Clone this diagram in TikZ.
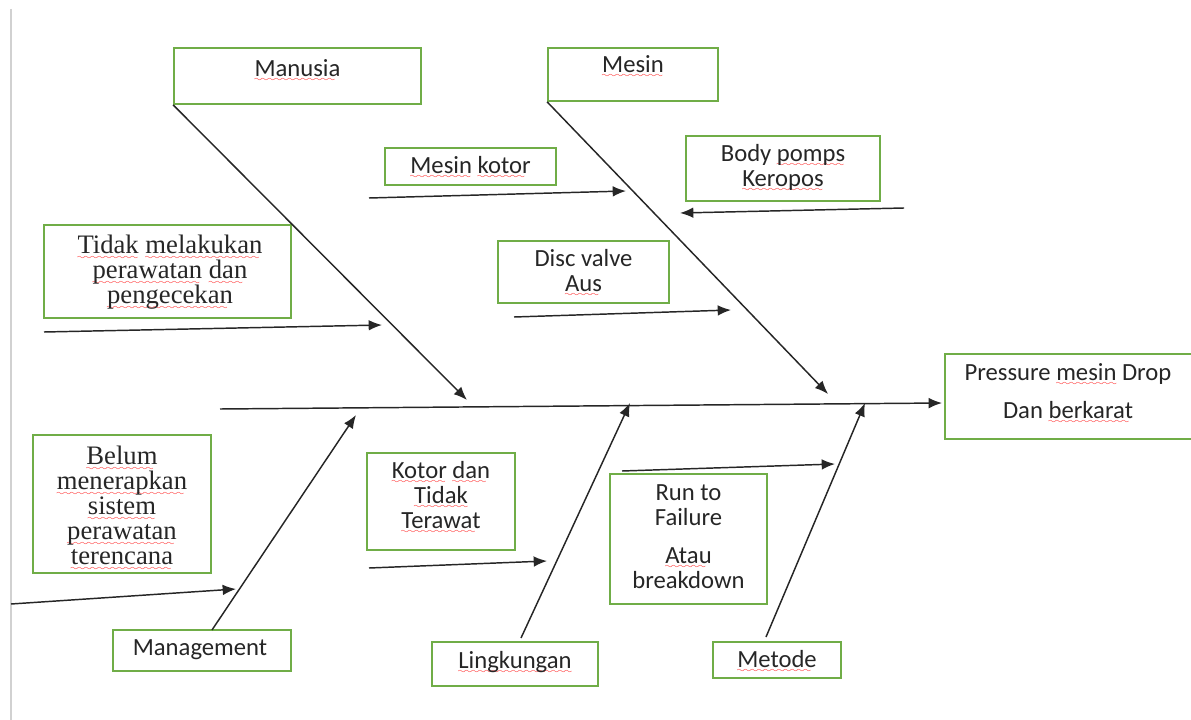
\documentclass[tikz,border=0pt]{standalone}
\usepackage{fontspec}
\setmainfont{Carlito}
\newfontfamily\bookfont{Liberation Serif}
\usepackage{tikz}
\usetikzlibrary{arrows.meta,fit}

\definecolor{boxgreen}{RGB}{112,173,71}

% red wavy underline under a word
\font\wavyfont=lasy6
\newcommand\redwave[1]{\setbox0=\hbox{#1}%
  \rlap{\lower4pt\hbox to\wd0{\color{red}\leaders\hbox{\wavyfont\char58}\hfil}}\box0\relax}

\begin{document}
\begin{tikzpicture}[x=0.75pt,y=0.75pt,yscale=-1,xscale=1,
    box/.style={draw=boxgreen,line width=1.3pt,inner sep=0pt},
    lbl/.style={anchor=north,inner sep=0pt,align=center,text=black!85,
      font={\fontsize{18.5}{18.75}\selectfont\lineskiplimit=-20pt}},
    serif/.style={lbl,font={\bookfont\fontsize{20}{18.75}\selectfont\lineskiplimit=-20pt}},
    bone/.style={draw=black!85,line width=1.1pt,-{Latex[length=10pt,width=8pt]}}]
  \useasboundingbox (0,0) rectangle (1191,720);
  \draw [color=black!18,line width=1.5pt] (11,9) -- (11,720) ;

  % boxes
  \node[box,fit={(174,48) (421,104)}] (manusia) {};
  \node[box,fit={(548,48) (718,101)}] (mesin) {};
  \node[box,fit={(385,148) (556,185)}] (kotor1) {};
  \node[box,fit={(686,136) (880,201)}] (body) {};
  \node[box,fit={(44,225) (291,318)}] (rawat) {};
  \node[box,fit={(498,241) (669,303)}] (disc) {};
  \node[box,fit={(945,354) (1194,439)}] (effect) {};
  \node[box,fit={(33,435) (211,573)}] (belum) {};
  \node[box,fit={(113,630) (291,671)}] (manag) {};
  \node[box,fit={(367,453) (515,550)}] (kotor2) {};
  \node[box,fit={(610,474) (767,604)}] (rtf) {};
  \node[box,fit={(432,642) (598,686)}] (lingk) {};
  \node[box,fit={(713,642) (841,678)}] (metode) {};

  % texts
  \node[lbl] (manusia-t) at (297.5,59) {\redwave{Manusia}};
  \node[lbl] (mesin-t) at (633,55) {\redwave{Mesin}};
  \node[lbl] (kotor1-t) at (470.5,156) {\redwave{Mesin} \redwave{kotor}};
  \node[lbl] (body-t) at (783,144) {Body \redwave{pomps}\\ \redwave{Keropos}};
  \node[serif] (rawat-t) at (170,235) {\redwave{Tidak} \redwave{melakukan}\\ \redwave{perawatan} \redwave{dan}\\ \redwave{pengecekan}};
  \node[lbl] (disc-t) at (583.5,249) {Disc valve\\ \redwave{Aus}};
  \node[lbl] (effect-t) at (1068,363) {Pressure \redwave{mesin} Drop\\[9.75pt] Dan \redwave{berkarat}};
  \node[serif] (belum-t) at (122,446) {\redwave{Belum}\\ \redwave{menerapkan}\\ \redwave{sistem}\\ \redwave{perawatan}\\ \redwave{terencana}};
  \node[lbl] (manag-t) at (200,639) {Management};
  \node[lbl] (kotor2-t) at (441,461) {\redwave{Kotor} \redwave{dan}\\ \redwave{Tidak}\\ \redwave{Terawat}};
  \node[lbl] (rtf-t) at (688.5,484) {Run to\\ Failure\\[9.75pt] \redwave{Atau}\\ breakdown};
  \node[lbl] (lingk-t) at (515,651) {\redwave{Lingkungan}};
  \node[lbl] (metode-t) at (777,650) {\redwave{Metode}};

  % spine
  \coordinate (tail) at (220,409);
  \coordinate (head) at (942,403);
  \draw[bone] (tail) -- (head) ;

  % main bones
  \coordinate (manusia-tip) at (467,400);
  \coordinate (mesin-tip) at (828,394);
  \coordinate (manag-foot) at (212,630);
  \coordinate (manag-tip) at (356,415);
  \coordinate (lingk-foot) at (521,638);
  \coordinate (lingk-tip) at (630,403);
  \coordinate (metode-foot) at (766,637);
  \coordinate (metode-tip) at (865,403);
  \draw[bone] (manusia.south west) -- (manusia-tip) ;
  \draw[bone] (mesin.south west) -- (mesin-tip) ;
  \draw[bone] (manag-foot) -- (manag-tip) ;
  \draw[bone] (lingk-foot) -- (lingk-tip) ;
  \draw[bone] (metode-foot) -- (metode-tip) ;

  % causes
  \coordinate (c1a) at (369,198);  \coordinate (c1b) at (626,191);
  \coordinate (c2a) at (904,208);  \coordinate (c2b) at (680,213);
  \coordinate (c3a) at (44,332);   \coordinate (c3b) at (382,325);
  \coordinate (c4a) at (514,317);  \coordinate (c4b) at (731,310);
  \coordinate (c5a) at (11,604);   \coordinate (c5b) at (236,589);
  \coordinate (c6a) at (369,568);  \coordinate (c6b) at (547,561);
  \coordinate (c7a) at (622,471);  \coordinate (c7b) at (835,464);
  \draw[bone] (c1a) -- (c1b) ;
  \draw[bone] (c2a) -- (c2b) ;
  \draw[bone] (c3a) -- (c3b) ;
  \draw[bone] (c4a) -- (c4b) ;
  \draw[bone] (c5a) -- (c5b) ;
  \draw[bone] (c6a) -- (c6b) ;
  \draw[bone] (c7a) -- (c7b) ;
\end{tikzpicture}
\end{document}
